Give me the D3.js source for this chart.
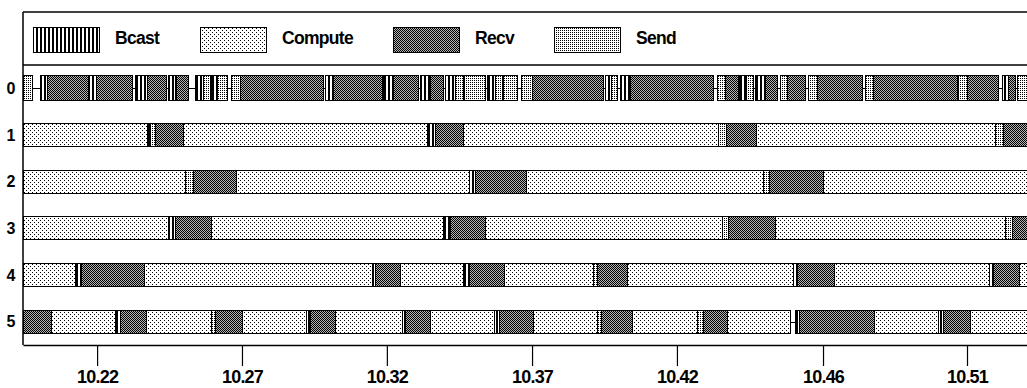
<!DOCTYPE html>
<html>
<head>
<meta charset="utf-8">
<script src="https://cdn.jsdelivr.net/npm/d3@7"></script>
<style>
  body { margin: 0; background: #fff; }
  svg { display: block; }
  .lbl { font-family: "Liberation Sans", Arial, sans-serif; font-weight: bold; }
</style>
</head>
<body>
<svg id="chart" width="1027" height="388"></svg>
<script>
// ranks (rows) and states
const ranks = ["0", "1", "2", "3", "4", "5"];
const states = ["Bcast", "Compute", "Recv", "Send"];
const tickValues = [10.2227, 10.2710, 10.3193, 10.3677, 10.4160, 10.4647, 10.5127];

// [state, start, end] in seconds
const rank0 = [
  ["Send", 10.1980, 10.2010],
  ["Bcast", 10.2037, 10.2060], ["Recv", 10.2060, 10.2197],
  ["Bcast", 10.2200, 10.2223], ["Recv", 10.2223, 10.2343],
  ["Bcast", 10.2353, 10.2393], ["Recv", 10.2393, 10.2457],
  ["Bcast", 10.2463, 10.2487], ["Recv", 10.2490, 10.2530],
  ["Bcast", 10.2553, 10.2580], ["Send", 10.2580, 10.2603],
  ["Bcast", 10.2607, 10.2627], ["Send", 10.2627, 10.2660],
  ["Send", 10.2673, 10.2703], ["Recv", 10.2703, 10.2980],
  ["Bcast", 10.2987, 10.3013], ["Recv", 10.3013, 10.3177],
  ["Bcast", 10.3180, 10.3213], ["Recv", 10.3213, 10.3297],
  ["Bcast", 10.3303, 10.3337], ["Recv", 10.3337, 10.3380],
  ["Bcast", 10.3387, 10.3420], ["Send", 10.3420, 10.3447],
  ["Send", 10.3450, 10.3520],
  ["Bcast", 10.3527, 10.3553], ["Send", 10.3553, 10.3577],
  ["Send", 10.3580, 10.3627],
  ["Send", 10.3640, 10.3677], ["Recv", 10.3677, 10.3913],
  ["Bcast", 10.3920, 10.3940], ["Send", 10.3940, 10.3960],
  ["Bcast", 10.3970, 10.4003], ["Recv", 10.4003, 10.4280],
  ["Send", 10.4293, 10.4320], ["Recv", 10.4320, 10.4363],
  ["Bcast", 10.4367, 10.4390], ["Send", 10.4390, 10.4413],
  ["Bcast", 10.4420, 10.4453], ["Recv", 10.4453, 10.4493],
  ["Send", 10.4503, 10.4527], ["Recv", 10.4527, 10.4587],
  ["Send", 10.4597, 10.4627], ["Recv", 10.4627, 10.4777],
  ["Send", 10.4787, 10.4813], ["Recv", 10.4813, 10.5093],
  ["Send", 10.5097, 10.5127], ["Recv", 10.5127, 10.5230],
  ["Bcast", 10.5243, 10.5263], ["Recv", 10.5263, 10.5287],
  ["Send", 10.5293, 10.5340]
];
const rank1 = [
  ["Compute", 10.1980, 10.2393], ["Bcast", 10.2393, 10.2403], ["Send", 10.2403, 10.2420],
  ["Recv", 10.2420, 10.2513], ["Compute", 10.2513, 10.3327], ["Bcast", 10.3327, 10.3353],
  ["Recv", 10.3353, 10.3447], ["Compute", 10.3447, 10.4297], ["Send", 10.4297, 10.4323],
  ["Recv", 10.4323, 10.4423], ["Compute", 10.4423, 10.5220], ["Send", 10.5220, 10.5247],
  ["Recv", 10.5247, 10.5340]
];
const rank2 = [
  ["Compute", 10.1980, 10.2520], ["Send", 10.2520, 10.2547], ["Recv", 10.2547, 10.2690],
  ["Compute", 10.2690, 10.3467], ["Bcast", 10.3467, 10.3487], ["Recv", 10.3487, 10.3657],
  ["Compute", 10.3657, 10.4447], ["Send", 10.4447, 10.4467], ["Recv", 10.4467, 10.4647],
  ["Compute", 10.4647, 10.5340]
];
const rank3 = [
  ["Compute", 10.1980, 10.2463], ["Bcast", 10.2463, 10.2487], ["Recv", 10.2487, 10.2607],
  ["Compute", 10.2607, 10.3380], ["Bcast", 10.3380, 10.3403], ["Recv", 10.3403, 10.3520],
  ["Compute", 10.3520, 10.4310], ["Send", 10.4310, 10.4330], ["Recv", 10.4330, 10.4487],
  ["Compute", 10.4487, 10.5253], ["Send", 10.5253, 10.5277], ["Recv", 10.5277, 10.5340]
];
const rank4 = [
  ["Compute", 10.1980, 10.2153], ["Bcast", 10.2153, 10.2173], ["Recv", 10.2173, 10.2383],
  ["Compute", 10.2383, 10.3143], ["Bcast", 10.3143, 10.3153], ["Recv", 10.3153, 10.3237],
  ["Compute", 10.3237, 10.3447], ["Bcast", 10.3447, 10.3467], ["Recv", 10.3467, 10.3583],
  ["Compute", 10.3583, 10.3880], ["Send", 10.3880, 10.3893], ["Recv", 10.3893, 10.3993],
  ["Compute", 10.3993, 10.4547], ["Bcast", 10.4547, 10.4560], ["Recv", 10.4560, 10.4683],
  ["Compute", 10.4683, 10.5200], ["Bcast", 10.5200, 10.5213], ["Recv", 10.5213, 10.5300],
  ["Compute", 10.5300, 10.5340]
];
const rank5 = [
  ["Recv", 10.1980, 10.2073], ["Compute", 10.2073, 10.2287], ["Bcast", 10.2287, 10.2303],
  ["Recv", 10.2303, 10.2390], ["Compute", 10.2390, 10.2607], ["Send", 10.2607, 10.2620],
  ["Recv", 10.2620, 10.2710], ["Compute", 10.2710, 10.2923], ["Bcast", 10.2923, 10.2937],
  ["Recv", 10.2937, 10.3020], ["Compute", 10.3020, 10.3243], ["Bcast", 10.3243, 10.3253],
  ["Recv", 10.3253, 10.3337], ["Compute", 10.3337, 10.3550], ["Bcast", 10.3550, 10.3567],
  ["Recv", 10.3567, 10.3680], ["Compute", 10.3680, 10.3893], ["Send", 10.3893, 10.3907],
  ["Recv", 10.3907, 10.4010], ["Compute", 10.4010, 10.4227], ["Send", 10.4227, 10.4247],
  ["Recv", 10.4247, 10.4327], ["Compute", 10.4327, 10.4537],
  ["Bcast", 10.4553, 10.4567], ["Recv", 10.4567, 10.4817], ["Compute", 10.4817, 10.5030],
  ["Bcast", 10.5030, 10.5047], ["Recv", 10.5047, 10.5137], ["Compute", 10.5137, 10.5340]
];
const rows = [rank0, rank1, rank2, rank3, rank4, rank5];

const W = 1027, H = 388;
const frameLeft = 23, frameTop = 12, legendBottom = 65, axisY = 345;
const barH = 23;

const svg = d3.select("#chart");

// fill patterns, one per state
const defs = svg.append("defs");
const makePattern = (id, w, h, bg, marks) => {
  const p = defs.append("pattern")
    .attr("id", id)
    .attr("patternUnits", "userSpaceOnUse")
    .attr("width", w)
    .attr("height", h);
  p.append("rect").attr("width", w).attr("height", h).attr("fill", bg)
    .attr("shape-rendering", "crispEdges");
  marks.forEach(([mx, my, mw, mh]) =>
    p.append("rect").attr("x", mx).attr("y", my).attr("width", mw).attr("height", mh)
      .attr("fill", "#000").attr("shape-rendering", "crispEdges"));
};
makePattern("pat-Bcast", 4, 4, "#fff", [[0, 0, 1.5, 4]]);
makePattern("pat-Compute", 4, 4, "#fff", [[0, 0, 1, 1], [2, 2, 1, 1]]);
makePattern("pat-Recv", 2, 2, "#b4b4b4", [[0, 0, 1, 1], [1, 1, 1, 1]]);
makePattern("pat-Send", 2, 2, "#fff", [[0, 0, 1, 1]]);

defs.append("clipPath").attr("id", "plot-clip")
  .append("rect").attr("x", frameLeft).attr("y", legendBottom)
  .attr("width", W - frameLeft).attr("height", axisY - legendBottom);

const x = d3.scaleLinear().domain([10.198, 10.5327]).range([frameLeft, W]);
const y = d3.scalePoint().domain(ranks).range([legendBottom, axisY]).padding(0.5);

// frame
svg.append("line").attr("x1", frameLeft).attr("x2", W).attr("y1", frameTop).attr("y2", frameTop)
  .attr("stroke", "#000").attr("stroke-width", 1.5);
svg.append("line").attr("x1", frameLeft).attr("x2", W).attr("y1", legendBottom).attr("y2", legendBottom)
  .attr("stroke", "#000").attr("stroke-width", 1.5);
svg.append("line").attr("x1", frameLeft).attr("x2", frameLeft).attr("y1", frameTop).attr("y2", axisY)
  .attr("stroke", "#000").attr("stroke-width", 1.5);

// legend
const legendX = [33, 200, 393, 554];
const legend = svg.append("g");
states.forEach((s, i) => {
  legend.append("rect")
    .attr("x", legendX[i] + 0.5).attr("y", 27.5)
    .attr("width", 66).attr("height", 25)
    .attr("fill", `url(#pat-${s})`)
    .attr("stroke", "#000");
  legend.append("text")
    .attr("class", "lbl")
    .attr("x", legendX[i] + 82).attr("y", 44)
    .attr("font-size", 17.5)
    .attr("letter-spacing", -0.7)
    .text(s);
});

// rows
const plot = svg.append("g").attr("clip-path", "url(#plot-clip)");
rows.forEach((segs, r) => {
  const cy = Math.round(y(ranks[r]));
  const h = r === 0 ? 25 : barH;
  const g = plot.append("g");
  g.append("line")
    .attr("x1", x(segs[0][1])).attr("x2", x(segs[segs.length - 1][2]))
    .attr("y1", cy + 0.5).attr("y2", cy + 0.5)
    .attr("stroke", "#000");
  g.selectAll("rect")
    .data(segs)
    .join("rect")
    .attr("x", (d) => Math.round(x(d[1])) + 0.5)
    .attr("y", cy - Math.round(h / 2) + 0.5)
    .attr("width", (d) => Math.max(1, Math.round(x(d[2])) - Math.round(x(d[1]))))
    .attr("height", h)
    .attr("fill", (d) => `url(#pat-${d[0]})`)
    .attr("stroke", "#000")
    .attr("stroke-width", 1);
});

// row labels
svg.append("g").selectAll("text")
  .data(ranks)
  .join("text")
  .attr("class", "lbl")
  .attr("x", 11)
  .attr("y", (d) => y(d) + 5.5)
  .attr("text-anchor", "middle")
  .attr("font-size", 16)
  .text((d) => d);

// time axis
const axis = d3.axisBottom(x)
  .tickValues(tickValues)
  .tickFormat(d3.format(".2f"))
  .tickSize(21)
  .tickSizeOuter(0);
const ax = svg.append("g")
  .attr("transform", `translate(0, ${axisY})`)
  .call(axis);
ax.attr("font-family", null).attr("font-size", null);
ax.select(".domain").attr("stroke-width", 1.5);
ax.selectAll(".tick line").attr("stroke-width", 1.2);
ax.selectAll(".tick text")
  .attr("class", "lbl")
  .attr("fill", "#000")
  .attr("dy", null)
  .attr("y", 38)
  .attr("font-size", 18)
  .attr("letter-spacing", -0.8);
</script>
</body>
</html>
